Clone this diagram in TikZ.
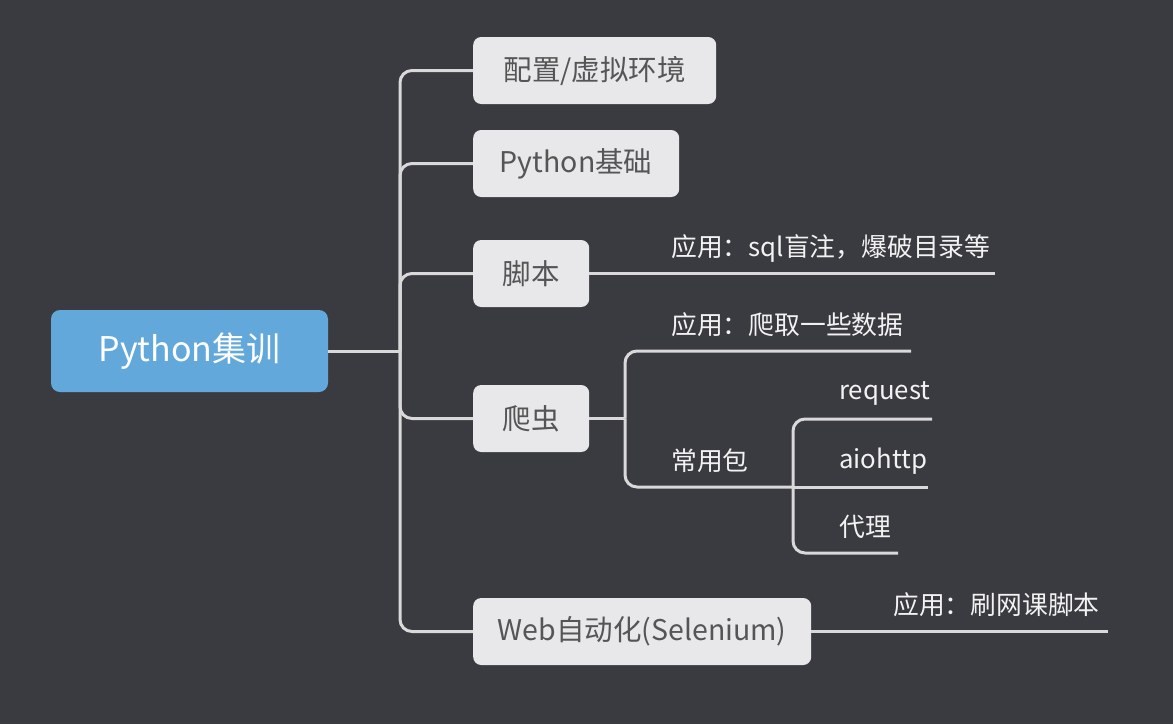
\documentclass[tikz,border=0pt]{standalone}
\usepackage{fontspec}
\setmainfont{Noto Sans CJK SC}
\definecolor{bg}{HTML}{3A3B40}
\definecolor{rootfill}{HTML}{62A8DB}
\definecolor{boxfill}{HTML}{E8E8EA}
\definecolor{boxtext}{HTML}{555555}
\definecolor{linec}{HTML}{D9D9D9}
\definecolor{labtext}{HTML}{F2F2F2}
\tikzset{
  rootbox/.style={fill=rootfill, rounded corners=9pt, text=white, font=\fontsize{34pt}{37pt}\selectfont, inner sep=0pt, align=center},
  box/.style={fill=boxfill, rounded corners=8pt, text=boxtext, font=\fontsize{28.5pt}{31pt}\selectfont, inner sep=0pt, minimum height=67pt, align=center},
  lab/.style={text=labtext, font=\fontsize{25.8pt}{29pt}\selectfont, inner sep=0pt},
  conn/.style={draw=linec, line width=3pt, rounded corners=12pt},
}
\begin{document}
\begin{tikzpicture}[x=1pt,y=-1pt]
\useasboundingbox[fill=bg] (0,0) rectangle (1173,724);

% root
\node[rootbox, minimum width=277pt, minimum height=82pt] (root) at (189.5,351) {Python集训};

% main branches
\node[box, minimum width=243pt, anchor=west] (b1) at (473,70.5) {配置/虚拟环境};
\node[box, minimum width=206pt, anchor=west] (b2) at (473,163.5) {Python基础};
\node[box, minimum width=116pt, anchor=west] (b3) at (473,273.5) {脚本};
\node[box, minimum width=116pt, anchor=west] (b4) at (473,418.5) {爬虫};
\node[box, minimum width=338pt, anchor=west] (b5) at (473,631.5) {Web自动化(Selenium)};

\coordinate (trunk) at (400,351);
\draw[conn] (root.east) -- (trunk);
\foreach \b in {b1,b2,b3,b4,b5} \draw[conn] (trunk) |- (\b.west);

% 脚本
\coordinate (e3) at (995,273.5);
\draw[conn] (b3.east) -- (e3);
\node[lab, anchor=base west] (l3) at (671,256) {应用：sql盲注，爆破目录等};

% 爬虫
\coordinate (fork) at (625,418.5);
\draw[conn] (b4.east) -- (fork);
\coordinate (e41) at (911,351);
\draw[conn] (fork) |- (e41);
\node[lab, anchor=base west] (l41) at (671,334) {应用：爬取一些数据};
\coordinate (pkg) at (793,487);
\draw[conn] (fork) |- (pkg);
\node[lab, anchor=base west] (l42) at (671,470) {常用包};

\coordinate (e421) at (932,419);
\coordinate (e422) at (928,487);
\coordinate (e423) at (898,553);
\draw[conn] (pkg) |- (e421);
\draw[conn] (pkg) -- (e422);
\draw[conn] (pkg) |- (e423);
\node[lab, anchor=base west] (l421) at (839,399) {request};
\node[lab, anchor=base west] (l422) at (839,468) {aiohttp};
\node[lab, anchor=base west] (l423) at (839,536) {代理};

% Web
\coordinate (e5) at (1108,631.5);
\draw[conn] (b5.east) -- (e5);
\node[lab, anchor=base west] (l5) at (893,614) {应用：刷网课脚本};
\end{tikzpicture}
\end{document}
